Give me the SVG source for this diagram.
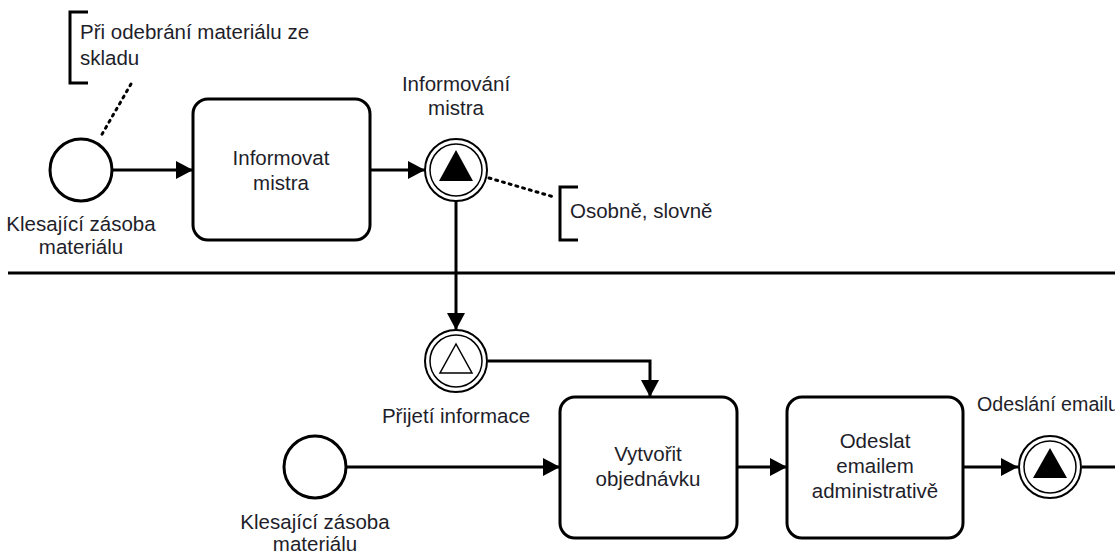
<svg xmlns="http://www.w3.org/2000/svg" width="1115" height="552" viewBox="0 0 1115 552">
  <defs>
    <marker id="arrow" viewBox="0 0 17 18" refX="17" refY="9" markerWidth="17" markerHeight="18" markerUnits="userSpaceOnUse" orient="auto">
      <path d="M0,0 L17,9 L0,18 Z" fill="#000"/>
    </marker>
    <style>
      .flow { fill: none; stroke: #000; stroke-width: 3; }
      .assoc { fill: none; stroke: #000; stroke-width: 3; stroke-dasharray: 2 5; stroke-linecap: round; }
      .start { fill: #fff; stroke: #000; stroke-width: 3; }
      .task { fill: #fff; stroke: #000; stroke-width: 3; }
      .outer { fill: #fff; stroke: #000; stroke-width: 2; }
      .inner { fill: none; stroke: #000; stroke-width: 1.5; }
      .bracket { fill: none; stroke: #000; stroke-width: 3; }
      text { font-family: "Liberation Sans", Arial, sans-serif; font-size: 20.5px; fill: #1e1e2a; }
      .c { text-anchor: middle; }
    </style>
  </defs>

  <!-- lane separator -->
  <line x1="8" y1="273" x2="1115" y2="273" stroke="#000" stroke-width="3"/>

  <g id="connectors">
    <line class="flow" x1="113" y1="170" x2="193" y2="170" marker-end="url(#arrow)"/>
    <line class="flow" x1="370" y1="170" x2="425" y2="170" marker-end="url(#arrow)"/>
    <line class="flow" x1="456" y1="201" x2="456" y2="330" marker-end="url(#arrow)"/>
    <polyline class="flow" points="488,361 650,361 650,397" marker-end="url(#arrow)"/>
    <line class="flow" x1="347" y1="467" x2="560" y2="467" marker-end="url(#arrow)"/>
    <line class="flow" x1="737" y1="467" x2="787" y2="467" marker-end="url(#arrow)"/>
    <line class="flow" x1="963" y1="467" x2="1018" y2="467" marker-end="url(#arrow)"/>
    <line class="flow" x1="1082" y1="467" x2="1115" y2="467"/>
    <line class="assoc" x1="131" y1="84" x2="101" y2="136"/>
    <line class="assoc" x1="489" y1="178" x2="554" y2="197"/>
  </g>

  <g id="note-odebrani">
    <polyline class="bracket" points="88,12 70,12 70,83 88,83"/>
    <text x="80" y="39">Při odebrání materiálu ze</text>
    <text x="80" y="65">skladu</text>
  </g>

  <g id="start-klesajici-1">
    <circle class="start" cx="81" cy="170" r="31"/>
    <text class="c" x="81" y="231">Klesající zásoba</text>
    <text class="c" x="81" y="254">materiálu</text>
  </g>

  <g id="task-informovat">
    <rect class="task" x="193" y="99" width="177" height="141" rx="15"/>
    <text class="c" x="281" y="165">Informovat</text>
    <text class="c" x="281" y="190">mistra</text>
  </g>

  <g id="throw-informovani">
    <circle class="outer" cx="456" cy="170" r="31"/>
    <circle class="inner" cx="456" cy="170" r="26"/>
    <polygon points="456,150 439,181 473,181" fill="#000"/>
    <text class="c" x="456" y="91">Informování</text>
    <text class="c" x="456" y="115">mistra</text>
  </g>

  <g id="note-osobne">
    <polyline class="bracket" points="578,187 560,187 560,240 578,240"/>
    <text x="570" y="218">Osobně, slovně</text>
  </g>

  <g id="catch-prijeti">
    <circle class="outer" cx="456" cy="361" r="31"/>
    <circle class="inner" cx="456" cy="361" r="26"/>
    <polygon points="456,344 440,373 472,373" fill="#fff" stroke="#000" stroke-width="1.5"/>
    <text class="c" x="456" y="423">Přijetí informace</text>
  </g>

  <g id="start-klesajici-2">
    <circle class="start" cx="315" cy="467" r="31"/>
    <text class="c" x="315" y="529">Klesající zásoba</text>
    <text class="c" x="315" y="551">materiálu</text>
  </g>

  <g id="task-vytvorit">
    <rect class="task" x="560" y="397" width="177" height="141" rx="15"/>
    <text class="c" x="648" y="461">Vytvořit</text>
    <text class="c" x="648" y="486">objednávku</text>
  </g>

  <g id="task-odeslat">
    <rect class="task" x="787" y="397" width="176" height="141" rx="15"/>
    <text class="c" x="875" y="448">Odeslat</text>
    <text class="c" x="875" y="473">emailem</text>
    <text class="c" x="875" y="498">administrativě</text>
  </g>

  <g id="throw-odeslani">
    <circle class="outer" cx="1050" cy="467" r="31"/>
    <circle class="inner" cx="1050" cy="467" r="26"/>
    <polygon points="1050,448 1033,478 1067,478" fill="#000"/>
    <text x="977" y="411" textLength="142" lengthAdjust="spacingAndGlyphs">Odeslání emailu</text>
  </g>
</svg>
